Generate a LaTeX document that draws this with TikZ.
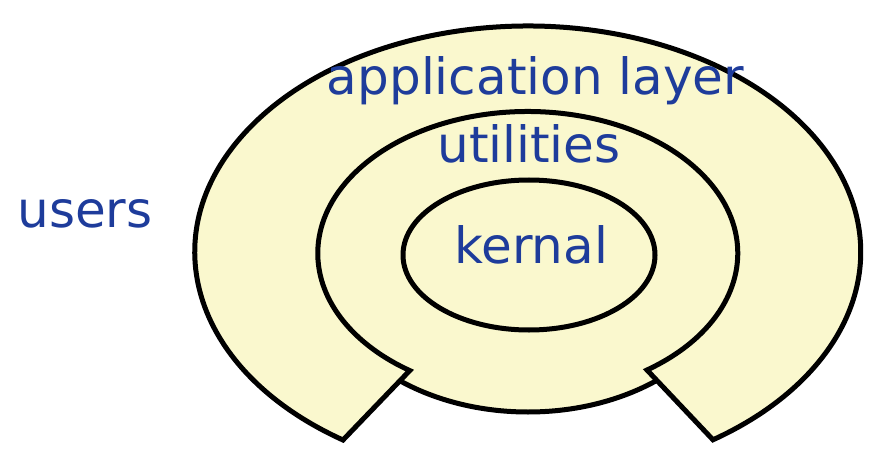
\documentclass[tikz,border=0pt]{standalone}
\usepackage{fontspec}
\setmainfont{DejaVu Sans}
\usetikzlibrary{shapes.geometric}
\definecolor{ringfill}{RGB}{250,248,206}
\definecolor{txtblue}{RGB}{30,60,155}
\begin{document}
\begin{tikzpicture}[x=1pt,y=1pt,
  ring/.style={draw=black,line width=5pt,fill=ringfill,line join=miter},
  lbl/.style={text=txtblue,font=\fontsize{50}{50}\selectfont,inner sep=0pt,anchor=base}]
\useasboundingbox (0,0) rectangle (878,456);
% middle ellipse (behind the notched ring): fill, and stroke only at the bottom
\fill[ringfill] (528,194.5) ellipse[x radius=210,y radius=150.5];
\begin{scope}
  \clip (0,0) rectangle (878,95);
  \draw[line width=5pt] (528,194.5) ellipse[x radius=210,y radius=150.5];
\end{scope}
% outer notched ring (block arc)
\path[ring] (343,16) arc[start angle=236.3,end angle=-56.2,x radius=333,y radius=226]
  -- (647,86) arc[start angle=-55.4,end angle=235.8,x radius=210,y radius=141.8] -- cycle;
% inner ellipse
\node[ring,ellipse,minimum width=252pt,minimum height=150pt,inner sep=0pt] (inner) at (529,201) {};
\node[lbl] (kern) at (531,193) {kernal};
\node[lbl] (util) at (529,294) {utilities};
\node[lbl] (app) at (535.5,361) {application layer};
\node[lbl] (users) at (85,229) {users};
\end{tikzpicture}
\end{document}
